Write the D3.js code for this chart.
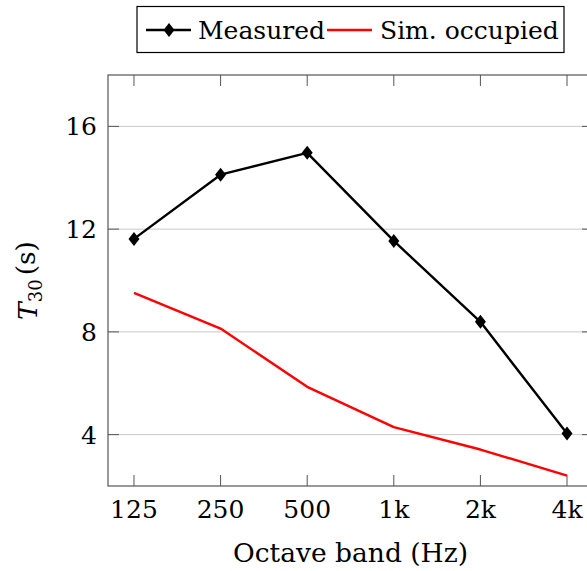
<!DOCTYPE html>
<html>
<head>
<meta charset="utf-8">
<script src="https://cdn.jsdelivr.net/npm/d3@7"></script>
<style>
  body { margin: 0; background: #fff; }
  text { font-family: "DejaVu Serif", serif; fill: #000; }
</style>
</head>
<body>
<svg id="chart" width="587" height="571"></svg>
<script>
// octave bands and reverberation times
const bands = ["125", "250", "500", "1k", "2k", "4k"];
const measured = [11.62, 14.12, 14.97, 11.54, 8.39, 4.04];
const simOccupied = [9.52, 8.13, 5.86, 4.29, 3.42, 2.4];
const yTicks = [4, 8, 12, 16];

const svg = d3.select("#chart");

const margin = { top: 75, bottom: 85, left: 108, right: -6 };
const width = 587 - margin.left - margin.right;
const height = 571 - margin.top - margin.bottom;

// x positions: ticks sit ~27.7px in from the frame on each side
const x = d3
  .scalePoint()
  .domain(bands)
  .range([0, width])
  .padding(0.3);

const y = d3.scaleLinear().domain([2, 18]).range([height, 0]);

const fs = "25px";

const g = svg
  .append("g")
  .attr("transform", `translate(${margin.left} ${margin.top})`);

// horizontal grid
g.append("g")
  .selectAll("line")
  .data(yTicks)
  .enter()
  .append("line")
  .attr("x1", 0)
  .attr("x2", width)
  .attr("y1", (d) => y(d))
  .attr("y2", (d) => y(d))
  .attr("stroke", "#c8c8c8")
  .attr("stroke-width", 1);

const tickLen = 11;
const axisColor = "#555";

// ticks pointing inward on all four sides
const xTickG = g.append("g");
bands.forEach((b) => {
  xTickG.append("line")
    .attr("x1", x(b)).attr("x2", x(b))
    .attr("y1", height).attr("y2", height - tickLen)
    .attr("stroke", axisColor);
  xTickG.append("line")
    .attr("x1", x(b)).attr("x2", x(b))
    .attr("y1", 0).attr("y2", tickLen)
    .attr("stroke", axisColor);
});
const yTickG = g.append("g");
yTicks.forEach((t) => {
  yTickG.append("line")
    .attr("x1", 0).attr("x2", tickLen)
    .attr("y1", y(t)).attr("y2", y(t))
    .attr("stroke", axisColor);
  yTickG.append("line")
    .attr("x1", width - tickLen).attr("x2", width)
    .attr("y1", y(t)).attr("y2", y(t))
    .attr("stroke", axisColor);
});

// frame
g.append("rect")
  .attr("x", 0)
  .attr("y", 0)
  .attr("width", width)
  .attr("height", height)
  .attr("fill", "none")
  .attr("stroke", axisColor)
  .attr("stroke-width", 1.2);

// tick labels
g.append("g")
  .selectAll("text")
  .data(bands)
  .enter()
  .append("text")
  .attr("x", (d) => x(d))
  .attr("y", height + 32)
  .attr("text-anchor", "middle")
  .style("font-size", fs)
  .text((d) => d);

g.append("g")
  .selectAll("text")
  .data(yTicks)
  .enter()
  .append("text")
  .attr("x", -11)
  .attr("y", (d) => y(d))
  .attr("dy", "0.36em")
  .attr("text-anchor", "end")
  .style("font-size", fs)
  .text((d) => d);

// axis labels
svg.append("text")
  .attr("x", margin.left + width / 2)
  .attr("y", 562)
  .attr("text-anchor", "middle")
  .style("font-size", "26.5px")
  .text("Octave band (Hz)");

const yLab = svg.append("text")
  .attr("transform", `translate(37 ${margin.top + height / 2}) rotate(-90)`)
  .attr("text-anchor", "middle")
  .style("font-size", "26.5px");
yLab.append("tspan").style("font-style", "italic").text("T");
yLab.append("tspan").attr("dy", "0.25em").style("font-size", "18px").text("30");
yLab.append("tspan").attr("dy", "-0.25em").attr("dx", "4").text("(s)");

// lines
const line = d3
  .line()
  .x((d, i) => x(bands[i]))
  .y((d) => y(d));

g.append("path")
  .datum(simOccupied)
  .attr("d", line)
  .attr("fill", "none")
  .attr("stroke", "#ff0000")
  .attr("stroke-width", 2.4)
  .attr("stroke-linejoin", "round");

g.append("path")
  .datum(measured)
  .attr("d", line)
  .attr("fill", "none")
  .attr("stroke", "#000")
  .attr("stroke-width", 2.4)
  .attr("stroke-linejoin", "round");

const diamond = "M0,-7L5.5,0L0,7L-5.5,0Z";

g.append("g")
  .selectAll("path")
  .data(measured)
  .enter()
  .append("path")
  .attr("d", diamond)
  .attr("transform", (d, i) => `translate(${x(bands[i])} ${y(d)})`)
  .attr("fill", "#000");

// legend
const leg = svg.append("g");
leg.append("rect")
  .attr("x", 137)
  .attr("y", 6.5)
  .attr("width", 427)
  .attr("height", 46)
  .attr("fill", "#fff")
  .attr("stroke", "#000")
  .attr("stroke-width", 1.2);

leg.append("line")
  .attr("x1", 146).attr("x2", 191)
  .attr("y1", 30).attr("y2", 30)
  .attr("stroke", "#000").attr("stroke-width", 2.4);
leg.append("path")
  .attr("d", diamond)
  .attr("transform", "translate(169 30)")
  .attr("fill", "#000");
leg.append("text")
  .attr("x", 198)
  .attr("y", 39)
  .style("font-size", fs)
  .text("Measured");

leg.append("line")
  .attr("x1", 327).attr("x2", 372)
  .attr("y1", 30).attr("y2", 30)
  .attr("stroke", "#ff0000").attr("stroke-width", 2.4);
leg.append("text")
  .attr("x", 380)
  .attr("y", 39)
  .style("font-size", fs)
  .text("Sim. occupied");
</script>
</body>
</html>
